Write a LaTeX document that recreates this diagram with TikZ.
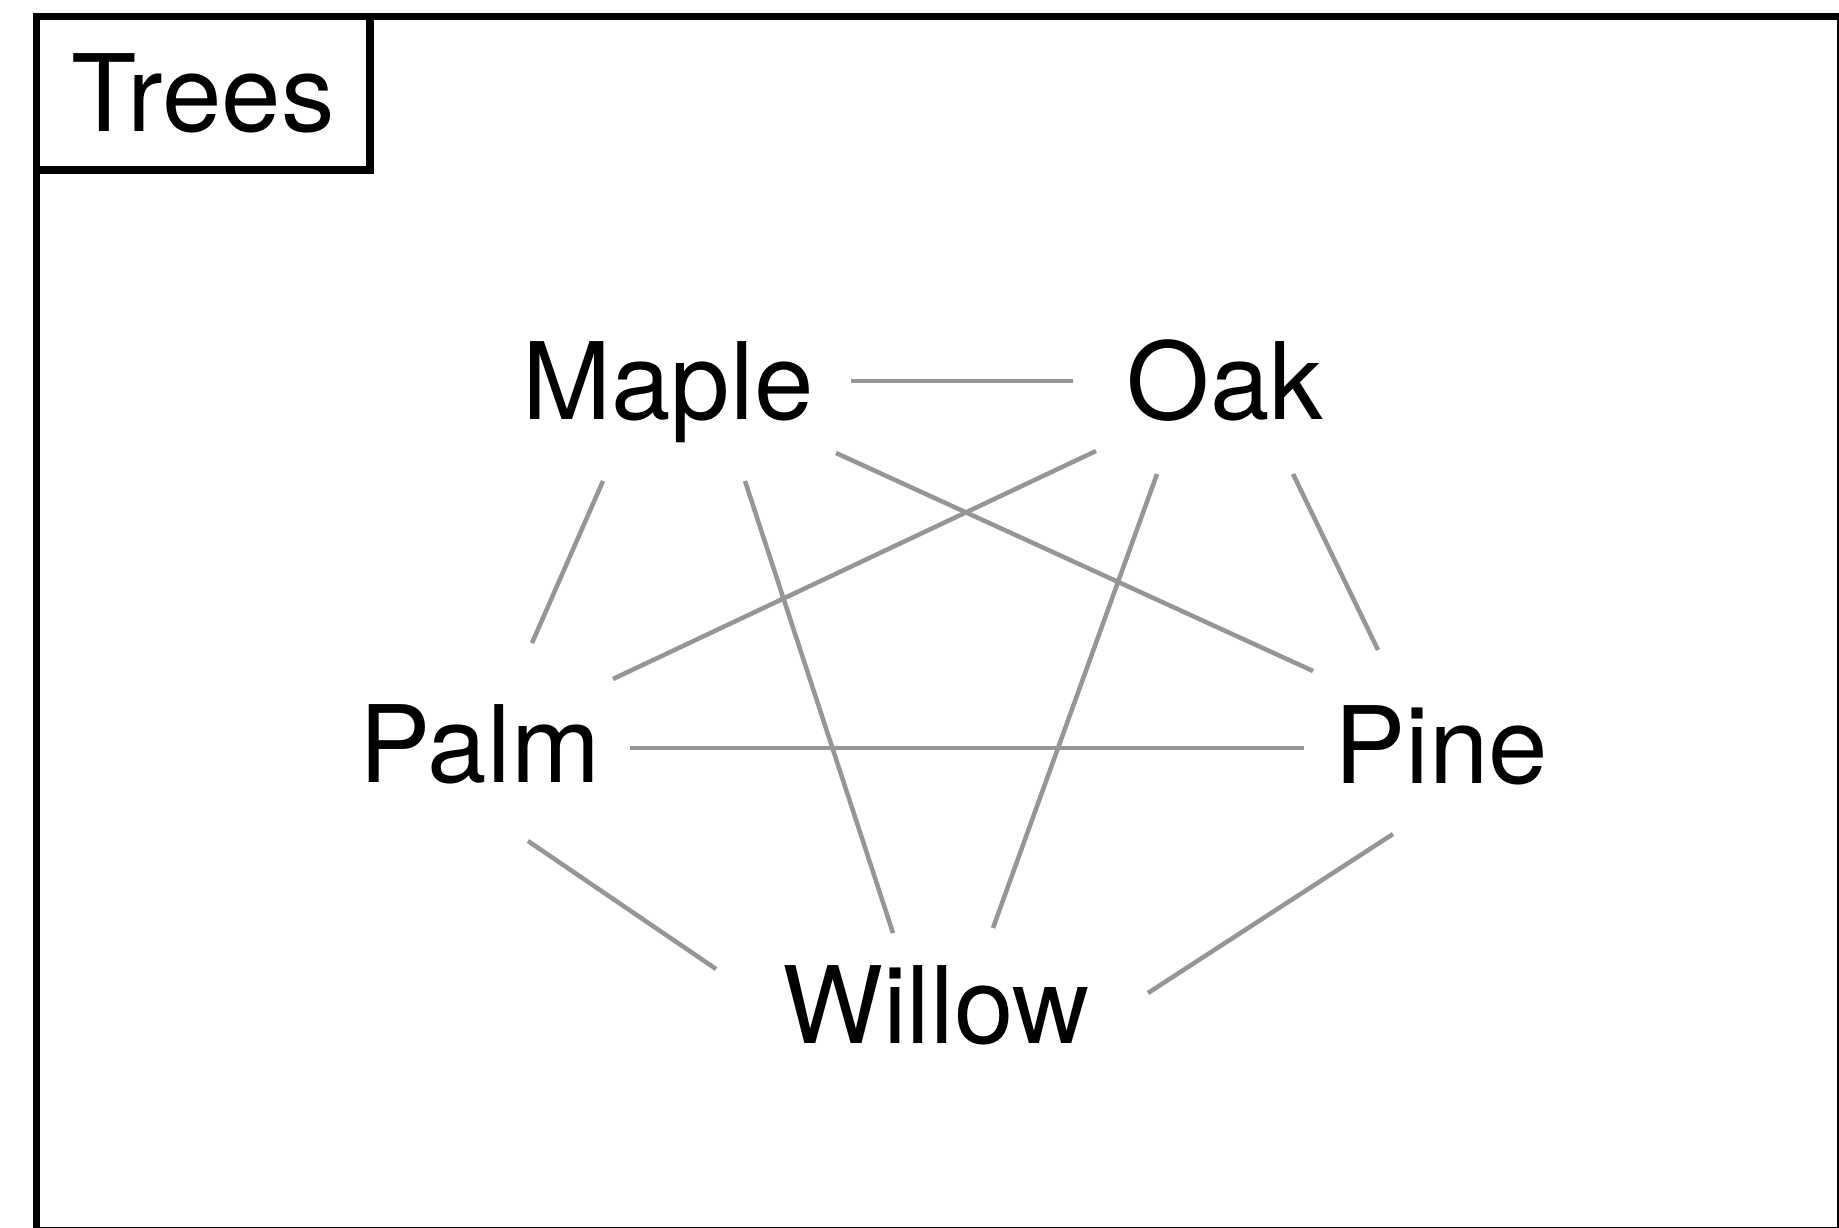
\documentclass[tikz,border=0pt]{standalone}
\usepackage{fontspec}
\setmainfont{TeX Gyre Heros}
\definecolor{edgegray}{RGB}{150,150,150}
\begin{document}
\begin{tikzpicture}[x=0.01cm,y=-0.01cm,
  lbl/.style={font=\fontsize{30.4}{36}\selectfont, inner sep=0pt, anchor=base},
  edge/.style={draw=edgegray, line width=0.045cm},
  frame/.style={draw=black, line width=0.075cm}]
\useasboundingbox (0,0) rectangle (1839,1228);
\clip (0,0) rectangle (1839,1228);
\fill[white] (0,0) rectangle (1839,1228);
% outer frame
\draw[frame] (36.5,16.5) rectangle (1841,1231);
% title tab
\node[frame, minimum width=3.335cm, minimum height=1.535cm, inner sep=0pt,
      font=\fontsize{30.4}{36}\selectfont] (title) at (203.25,93.25) {Trees};
% tree nodes
\node[lbl] (Maple)  at (668,420)  {Maple};
\node[lbl] (Oak)    at (1225,420) {Oak};
\node[lbl] (Palm)   at (480,783)  {Palm};
\node[lbl] (Pine)   at (1441,784) {Pine};
\node[lbl] (Willow) at (936,1043) {Willow};
% connectors
\draw[edge] ([shift={(183,-39)}]Maple.base) -- ([shift={(-152,-39)}]Oak.base);
\draw[edge] ([shift={(-65,61)}]Maple.base) -- ([shift={(52,-140)}]Palm.base);
\draw[edge] ([shift={(77,61)}]Maple.base) -- ([shift={(-43,-110)}]Willow.base);
\draw[edge] ([shift={(168,33)}]Maple.base) -- ([shift={(-128,-113)}]Pine.base);
\draw[edge] ([shift={(-129,31)}]Oak.base) -- ([shift={(133,-104)}]Palm.base);
\draw[edge] ([shift={(-68,54)}]Oak.base) -- ([shift={(57,-115)}]Willow.base);
\draw[edge] ([shift={(68,54)}]Oak.base) -- ([shift={(-63,-134)}]Pine.base);
\draw[edge] ([shift={(150,-35)}]Palm.base) -- ([shift={(-137,-36)}]Pine.base);
\draw[edge] ([shift={(48,58)}]Palm.base) -- ([shift={(-220,-74)}]Willow.base);
\draw[edge] ([shift={(-48,50)}]Pine.base) -- ([shift={(212,-50)}]Willow.base);
\end{tikzpicture}
\end{document}
